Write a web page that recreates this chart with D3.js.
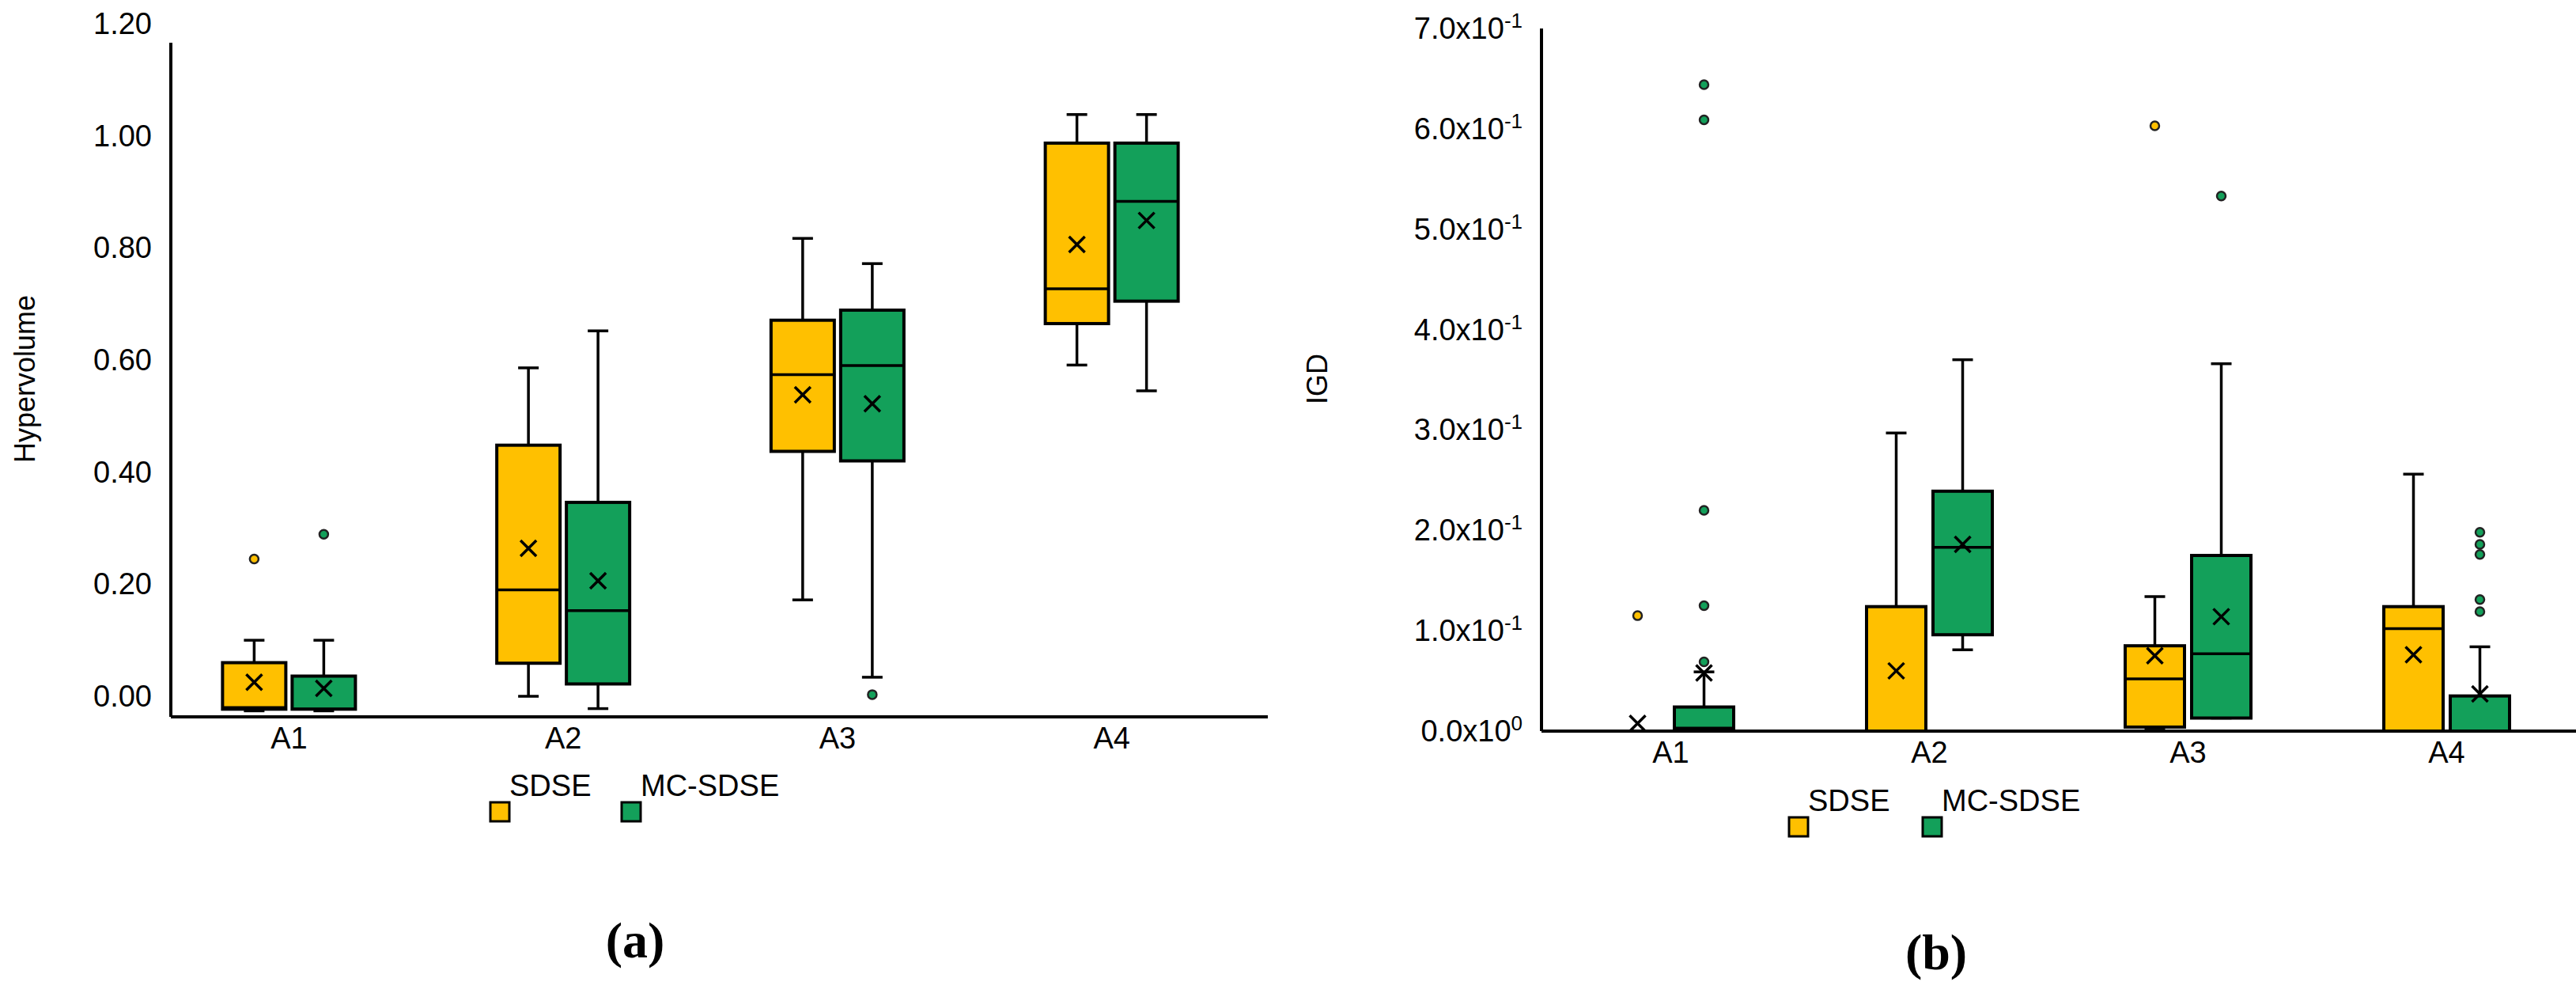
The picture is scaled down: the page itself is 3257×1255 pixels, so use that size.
<!DOCTYPE html>
<html><head><meta charset="utf-8">
<script src="https://cdn.jsdelivr.net/npm/d3@7"></script>
<style>body{margin:0;background:#fff}svg{display:block}</style>
</head><body>
<svg id="c" width="3257" height="1255"></svg>
<script>
const categories = ["A1","A2","A3","A4"];
const seriesNames = ["SDSE","MC-SDSE"];
const colors = ["#FFC000","#13A05A"];
// [min, q1, median, q3, max, mean]
const hvSDSE = [[-0.026,-0.023,-0.02,0.06,0.10,0.025],[0.0,0.059,0.19,0.448,0.586,0.264],[0.172,0.437,0.574,0.671,0.817,0.538],[0.591,0.665,0.727,0.987,1.038,0.806]];
const hvMC   = [[-0.026,-0.023,-0.023,0.036,0.10,0.014],[-0.022,0.022,0.153,0.346,0.652,0.206],[0.034,0.42,0.59,0.689,0.772,0.522],[0.545,0.705,0.883,0.987,1.038,0.849]];
const hvOutSDSE = [[0.245],[],[],[]];
const hvOutMC   = [[0.289],[],[0.003],[]];
const hvTicks = [0,0.2,0.4,0.6,0.8,1.0,1.2];
const igdSDSE = [[0,0,0,0,0,0.0076],[0,0,0,0.124,0.297,0.060],[0.003,0.004,0.052,0.085,0.134,0.075],[0,0,0.102,0.124,0.256,0.076]];
const igdMC   = [[0,0,0.003,0.024,0.059,0.058],[0.081,0.096,0.183,0.239,0.370,0.186],[0.013,0.013,0.077,0.175,0.366,0.114],[0,0,0,0.035,0.084,0.037]];
const igdOutSDSE = [[0.115],[],[0.603],[]];
const igdOutMC   = [[0.069,0.125,0.22,0.609,0.644],[],[0.533],[0.119,0.131,0.176,0.186,0.198]];
const igdTicks = [0,0.1,0.2,0.3,0.4,0.5,0.6,0.7];

const svg = d3.select("#c");
const FONT = "'Liberation Sans Narrow','Liberation Sans',Arial,sans-serif";

function chart(o){
  const g = svg.append("g");
  const y = d3.scaleLinear().domain(o.domain).range([o.y0,o.y1]);
  const x = d3.scaleBand().domain(categories).range([o.xL,o.xR]);
  // axes lines
  g.append("line").attr("x1",o.xL).attr("x2",o.xL).attr("y1",o.axTop).attr("y2",o.axBot).attr("stroke","#000").attr("stroke-width",4);
  g.append("line").attr("x1",o.xL).attr("x2",o.xR).attr("y1",o.axBot).attr("y2",o.axBot).attr("stroke","#000").attr("stroke-width",4);
  // tick labels
  o.ticks.forEach(t=>{
    const tx = g.append("text").attr("x",o.xL-24).attr("y",y(t)+o.tickDy).attr("text-anchor","end")
      .attr("font-family",FONT).attr("font-size",38).attr("fill","#000");
    o.fmt(tx,t);
  });
  categories.forEach(c=>{
    g.append("text").attr("x",x(c)+x.bandwidth()/2+o.catShift).attr("y",o.axBot+40).attr("text-anchor","middle")
      .attr("font-family",FONT).attr("font-size",38).text(c);
  });
  g.append("text").attr("transform",`translate(${o.titleX},${o.titleY}) rotate(-90)`).attr("text-anchor","middle")
    .attr("font-family",FONT).attr("font-size",36).text(o.title);
  const data=[o.s1,o.s2], outs=[o.o1,o.o2];
  data.forEach((ser,si)=>{
    ser.forEach((d,ci)=>{
      const cx = x(categories[ci])+x.bandwidth()/2+o.catShift+(si===0?-o.off:o.off);
      const w=o.bw, cap=26;
      const [mn,q1,md,q3,mx,mean]=d;
      g.append("line").attr("x1",cx).attr("x2",cx).attr("y1",y(mx)).attr("y2",y(q3)).attr("stroke","#000").attr("stroke-width",3.5);
      g.append("line").attr("x1",cx).attr("x2",cx).attr("y1",y(q1)).attr("y2",y(mn)).attr("stroke","#000").attr("stroke-width",3.5);
      g.append("line").attr("x1",cx-cap/2).attr("x2",cx+cap/2).attr("y1",y(mx)).attr("y2",y(mx)).attr("stroke","#000").attr("stroke-width",3.5);
      g.append("line").attr("x1",cx-cap/2).attr("x2",cx+cap/2).attr("y1",y(mn)).attr("y2",y(mn)).attr("stroke","#000").attr("stroke-width",3.5);
      if(y(q1)-y(q3)>0.5){
        g.append("rect").attr("x",cx-w/2).attr("y",y(q3)).attr("width",w).attr("height",y(q1)-y(q3))
          .attr("fill",colors[si]).attr("stroke","#000").attr("stroke-width",4);
        g.append("line").attr("x1",cx-w/2).attr("x2",cx+w/2).attr("y1",y(md)).attr("y2",y(md)).attr("stroke","#000").attr("stroke-width",3.5);
      }
      const m=y(mean), s=10;
      g.append("path").attr("d",`M${cx-s},${m-s}L${cx+s},${m+s}M${cx-s},${m+s}L${cx+s},${m-s}`).attr("stroke","#000").attr("stroke-width",3.5);
      outs[si][ci].forEach(v=>{
        g.append("circle").attr("cx",cx).attr("cy",y(v)).attr("r",5.5).attr("fill",colors[si]).attr("stroke","#222").attr("stroke-width",2.5);
      });
    });
  });
  // legend
  seriesNames.forEach((n,i)=>{
    const lx=o.legX[i];
    g.append("rect").attr("x",lx).attr("y",o.legY).attr("width",24).attr("height",24).attr("fill",colors[i]).attr("stroke","#000").attr("stroke-width",3);
    g.append("text").attr("x",lx+24).attr("y",o.legY-8).attr("font-family",FONT).attr("font-size",38).text(n);
  });
  g.append("text").attr("x",o.capX).attr("y",o.capY).attr("text-anchor","middle").attr("font-family","'Liberation Serif','DejaVu Serif',serif")
    .attr("font-size",64).attr("font-weight","bold").text(o.cap);
}

chart({domain:[0,1.2],y0:880,y1:30,xL:216,xR:1603,axTop:54,axBot:906,ticks:hvTicks,tickDy:13,
  fmt:(t,v)=>t.text(v.toFixed(2)),catShift:-24,off:44,bw:80,
  s1:hvSDSE,s2:hvMC,o1:hvOutSDSE,o2:hvOutMC,title:"Hypervolume",titleX:44,titleY:479,
  legX:[620,786],legY:1014,cap:"(a)",capX:803,capY:1210});

chart({domain:[0,0.7],y0:924,y1:36,xL:1949,xR:3257,axTop:36,axBot:924,ticks:igdTicks,tickDy:13,
  fmt:(t,v)=>{const e=v===0?"0":"-1"; const mant=v===0?"0.0":(v*10).toFixed(1);
    t.append("tspan").text(mant+"x10"); t.append("tspan").attr("dy",-14).attr("font-size",26).text(e);},
  catShift:0,off:42,bw:75,
  s1:igdSDSE,s2:igdMC,o1:igdOutSDSE,o2:igdOutMC,title:"IGD",titleX:1678,titleY:479,
  legX:[2262,2431],legY:1033,cap:"(b)",capX:2448,capY:1225});
</script>
</body></html>
